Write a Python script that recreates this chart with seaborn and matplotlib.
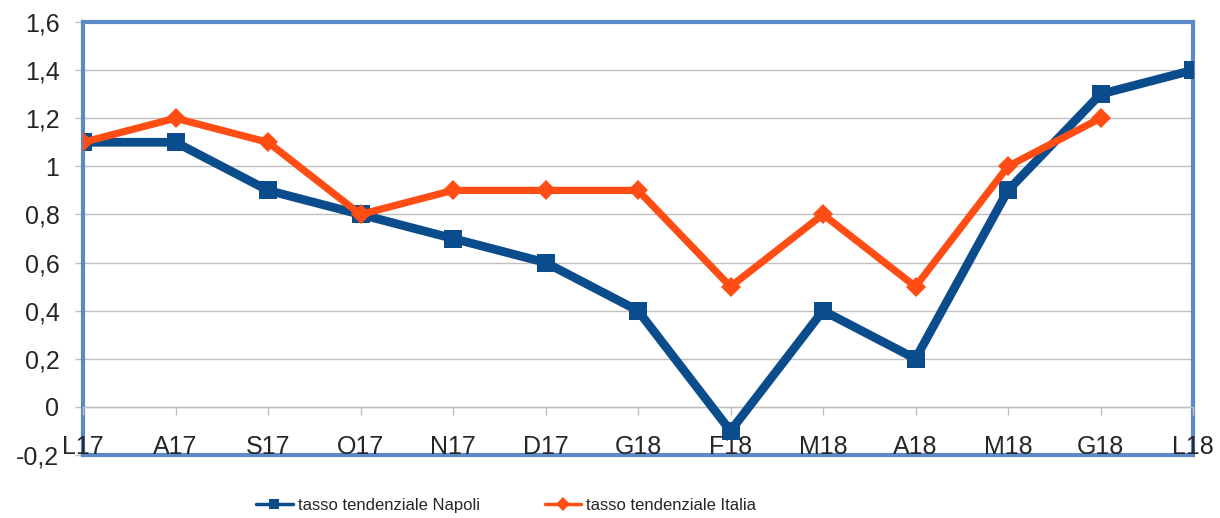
import numpy as np
import matplotlib
matplotlib.use("Agg")
import matplotlib.pyplot as plt
import seaborn as sns

# data
months = ["L17", "A17", "S17", "O17", "N17", "D17", "G18", "F18",
          "M18", "A18", "M18", "G18", "L18"]
napoli = [1.1, 1.1, 0.9, 0.8, 0.7, 0.6, 0.4, -0.1, 0.4, 0.2, 0.9, 1.3, 1.4]
italia = [1.1, 1.2, 1.1, 0.8, 0.9, 0.9, 0.9, 0.5, 0.8, 0.5, 1.0, 1.2, np.nan]
y_ticks = [-0.2, 0, 0.2, 0.4, 0.6, 0.8, 1, 1.2, 1.4, 1.6]

sns.set_style("white")
plt.rcParams['font.family'] = ['Liberation Sans', 'DejaVu Sans']

col_napoli = '#0B4C8D'
col_italia = '#FF4D14'
col_frame = '#5B8AC6'
col_grid = '#C0C0C0'

fig = plt.figure(figsize=(12.2, 5.18), dpi=100)
ax = fig.add_axes([83 / 1220, 63 / 518, 1110 / 1220, 433 / 518])

x = np.arange(len(months))
sns.lineplot(x=x, y=napoli, ax=ax, color=col_napoli, lw=6.3, marker='s',
             markersize=13, markeredgewidth=0, label='tasso tendenziale Napoli',
             zorder=3)
sns.lineplot(x=x, y=italia, ax=ax, color=col_italia, lw=5.2, marker='D',
             markersize=10, markeredgewidth=0, label='tasso tendenziale Italia',
             zorder=4)

ax.set_xlim(0, len(months) - 1)
ax.set_ylim(-0.2, 1.6)
ax.set_yticks(y_ticks)
ax.set_yticklabels([f"{v:g}".replace('.', ',') for v in y_ticks], fontsize=18)
ax.yaxis.grid(True, color=col_grid, lw=1)
ax.set_axisbelow(True)
ax.tick_params(axis='y', left=True, length=6, width=1, color=col_grid, pad=11)
ax.tick_params(axis='x', bottom=False, labelbottom=False)

# blue frame: above the grid, under the category labels and the data
for s in ax.spines.values():
    s.set_color(col_frame)
    s.set_linewidth(3)
    s.set_zorder(0.6)

# category axis crossing at zero
sec = ax.secondary_xaxis(0.2 / 1.8)
sec.set_zorder(0.8)
sec.set_xticks(x)
sec.set_xticklabels(months, fontsize=18)
sec.spines['bottom'].set_color(col_grid)
sec.spines['bottom'].set_linewidth(1)
sec.tick_params(axis='x', length=6, width=1, color=col_grid, pad=14)

leg = ax.legend(loc='center', bbox_to_anchor=(0.415, 0.024),
                bbox_transform=fig.transFigure, ncol=2, frameon=False,
                handlelength=2.2, handletextpad=0.3, columnspacing=3.9,
                prop={'family': ['Liberation Sans Narrow', 'Liberation Sans'],
                      'size': 12})
for h in leg.legend_handles:
    h.set_linewidth(2.5)
    h.set_markersize(7)

plt.savefig("out.png", dpi=100)
